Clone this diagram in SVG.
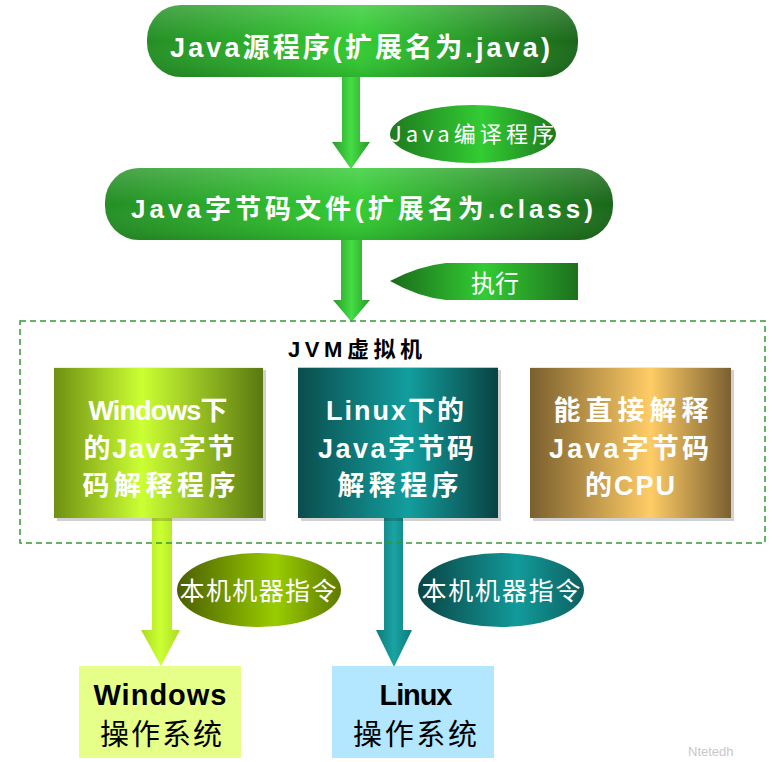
<svg xmlns="http://www.w3.org/2000/svg" width="782" height="762" viewBox="0 0 782 762">
<defs>
<linearGradient id="gPill" x1="0" y1="0" x2="1" y2="0">
<stop offset="0" stop-color="#248f24"/><stop offset="0.5" stop-color="#33cc33"/><stop offset="1" stop-color="#1a661a"/>
</linearGradient>
<linearGradient id="gPillV" x1="0" y1="0" x2="0" y2="1">
<stop offset="0" stop-color="#ffffff" stop-opacity="0.18"/><stop offset="0.5" stop-color="#ffffff" stop-opacity="0"/><stop offset="1" stop-color="#000000" stop-opacity="0.12"/>
</linearGradient>
<linearGradient id="gArrowG" x1="0" y1="0" x2="1" y2="0">
<stop offset="0" stop-color="#2a9a2a"/><stop offset="0.5" stop-color="#44dd44"/><stop offset="1" stop-color="#2a9a2a"/>
</linearGradient>
<linearGradient id="gArrowY" x1="0" y1="0" x2="1" y2="0">
<stop offset="0" stop-color="#aadd22"/><stop offset="0.5" stop-color="#ccff33"/><stop offset="1" stop-color="#aadd22"/>
</linearGradient>
<linearGradient id="gArrowT" x1="0" y1="0" x2="1" y2="0">
<stop offset="0" stop-color="#0f7a7a"/><stop offset="0.5" stop-color="#1aa3a3"/><stop offset="1" stop-color="#0f7a7a"/>
</linearGradient>
<linearGradient id="gExec" x1="0" y1="0" x2="1" y2="0">
<stop offset="0" stop-color="#1a6b1a"/><stop offset="0.5" stop-color="#33cc33"/><stop offset="1" stop-color="#1d701d"/>
</linearGradient>
<linearGradient id="gEllG" x1="0" y1="0" x2="1" y2="0">
<stop offset="0" stop-color="#1e7a1e"/><stop offset="0.55" stop-color="#33cc33"/><stop offset="1" stop-color="#1e7a1e"/>
</linearGradient>
<linearGradient id="gEllY" x1="0" y1="0" x2="1" y2="0">
<stop offset="0" stop-color="#4a5e00"/><stop offset="0.6" stop-color="#99cc00"/><stop offset="1" stop-color="#5e7a00"/>
</linearGradient>
<linearGradient id="gEllT" x1="0" y1="0" x2="1" y2="0">
<stop offset="0" stop-color="#0a4444"/><stop offset="0.6" stop-color="#129a9a"/><stop offset="1" stop-color="#0d6060"/>
</linearGradient>
<linearGradient id="gBox1" x1="0" y1="0" x2="1" y2="0">
<stop offset="0" stop-color="#6f9012"/><stop offset="0.42" stop-color="#ccff33"/><stop offset="1" stop-color="#5a7810"/>
</linearGradient>
<linearGradient id="gBox2" x1="0" y1="0" x2="1" y2="0">
<stop offset="0" stop-color="#0b4d4d"/><stop offset="0.55" stop-color="#139e9e"/><stop offset="1" stop-color="#0a4242"/>
</linearGradient>
<linearGradient id="gBox3" x1="0" y1="0" x2="1" y2="0">
<stop offset="0" stop-color="#7a5f2e"/><stop offset="0.6" stop-color="#ffcc66"/><stop offset="1" stop-color="#7a6030"/>
</linearGradient>
</defs>
<style>
.wt{fill:#ffffff;font-family:"Liberation Sans","Noto Sans CJK SC",sans-serif;font-weight:bold;text-anchor:middle}
.lbl{fill:#ffffff;font-family:"Noto Sans CJK SC",sans-serif;text-anchor:middle}
.bt{fill:#000000;font-family:"Liberation Sans","Noto Sans CJK SC",sans-serif;text-anchor:middle}
.shadow{fill:#000000;opacity:0.18}
</style>
<rect width="782" height="762" fill="#ffffff"/>

<g id="connectors">
<path d="M342,77 H360 V142 H370 L351,169 L332,142 H342 Z" fill="url(#gArrowG)"/>
<path d="M341,240 H362 V300 H370 L351.5,322 L333,300 H341 Z" fill="url(#gArrowG)"/>
<path d="M152,518 H172 V630 H180 L161,666 L141,630 H152 Z" fill="url(#gArrowY)"/>
<path d="M384,518 H403 V630 H412 L394,667 L376,630 H384 Z" fill="url(#gArrowT)"/>
</g>

<g id="node-source">
<rect x="147" y="5" width="431" height="72" rx="34" fill="url(#gPill)"/>
<rect x="147" y="5" width="431" height="72" rx="34" fill="url(#gPillV)"/>
<text class="wt" x="360" y="57" font-size="27" textLength="380">Java源程序(扩展名为.java)</text>
</g>

<g id="label-compile">
<ellipse cx="473" cy="134" rx="83" ry="29" fill="url(#gEllG)"/>
<text class="lbl" x="472" y="142" font-size="22" textLength="164">Java编译程序</text>
</g>

<g id="node-bytecode">
<rect x="105" y="168" width="508" height="72" rx="34" fill="url(#gPill)"/>
<rect x="105" y="168" width="508" height="72" rx="34" fill="url(#gPillV)"/>
<text class="wt" x="362" y="218" font-size="26" textLength="462">Java字节码文件(扩展名为.class)</text>
</g>

<g id="label-exec">
<path d="M390,281 Q418,266 446,263 L578,263 L578,300 L446,300 Q418,297 390,281 Z" fill="url(#gExec)"/>
<text class="lbl" x="495" y="292" font-size="24">执行</text>
</g>

<g id="node-jvm">
<rect x="20" y="321" width="745" height="222" fill="none" stroke="#339933" stroke-width="1.5" stroke-dasharray="6,4"/>
<text x="355" y="357" font-family="Liberation Sans,Noto Sans CJK SC,sans-serif" font-weight="bold" font-size="22" text-anchor="middle" fill="#000000" textLength="134">JVM虚拟机</text>
</g>

<g id="node-win-interp">
<rect class="shadow" x="57" y="370" width="209" height="151"/>
<rect x="54" y="367" width="209" height="151" fill="url(#gBox1)"/>
<line x1="54" y1="367.5" x2="263" y2="367.5" stroke="#eeff99" stroke-width="1"/>
<text class="wt" x="158" y="420" font-size="27" textLength="139">Windows下</text>
<text class="wt" x="159" y="458" font-size="27" textLength="151">的Java字节</text>
<text class="wt" x="159" y="495" font-size="27" textLength="153">码解释程序</text>
</g>

<g id="node-linux-interp">
<rect class="shadow" x="301" y="370" width="200" height="151"/>
<rect x="298" y="367" width="200" height="151" fill="url(#gBox2)"/>
<line x1="298" y1="367.5" x2="498" y2="367.5" stroke="#88dddd" stroke-width="1"/>
<text class="wt" x="395" y="420" font-size="27" textLength="138">Linux下的</text>
<text class="wt" x="396" y="458" font-size="27" textLength="156">Java字节码</text>
<text class="wt" x="398" y="495" font-size="27" textLength="121">解释程序</text>
</g>

<g id="node-cpu">
<rect class="shadow" x="533" y="370" width="201" height="151"/>
<rect x="530" y="367" width="201" height="151" fill="url(#gBox3)"/>
<line x1="530" y1="367.5" x2="731" y2="367.5" stroke="#ffe6b3" stroke-width="1"/>
<text class="wt" x="631" y="420" font-size="27" textLength="155">能直接解释</text>
<text class="wt" x="629" y="458" font-size="27" textLength="160">Java字节码</text>
<text class="wt" x="630" y="495" font-size="27" textLength="90">的CPU</text>
</g>

<g id="label-native-win">
<ellipse cx="259" cy="590" rx="82" ry="37" fill="url(#gEllY)"/>
<text class="lbl" x="258" y="600" font-size="25" textLength="157">本机机器指令</text>
</g>

<g id="label-native-linux">
<ellipse cx="501" cy="590" rx="83" ry="37" fill="url(#gEllT)"/>
<text class="lbl" x="501" y="600" font-size="25" textLength="159">本机机器指令</text>
</g>

<g id="node-windows-os">
<rect x="79" y="666" width="162" height="92" fill="#e6ff88"/>
<text class="bt" x="160" y="705" font-size="29" font-weight="bold" textLength="133">Windows</text>
<text class="bt" x="161" y="745" font-size="29" textLength="122">操作系统</text>
</g>

<g id="node-linux-os">
<rect x="332" y="666" width="162" height="92" fill="#b3e6ff"/>
<text class="bt" x="416" y="705" font-size="29" font-weight="bold" textLength="73">Linux</text>
<text class="bt" x="415" y="745" font-size="29" textLength="124">操作系统</text>
</g>

<text x="688" y="756" font-family="Liberation Sans,sans-serif" font-size="13" fill="#c8c8c8">Ntetedh</text>
</svg>
